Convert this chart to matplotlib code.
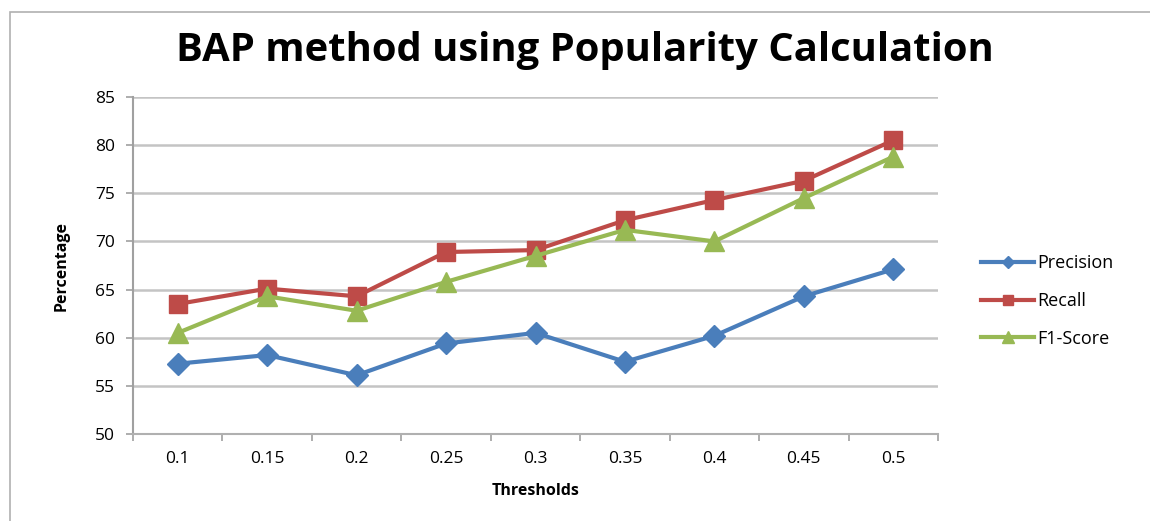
import matplotlib
matplotlib.use("Agg")
import matplotlib.pyplot as plt
from matplotlib.patches import Rectangle

thresholds = ["0.1", "0.15", "0.2", "0.25", "0.3", "0.35", "0.4", "0.45", "0.5"]
precision = [57.3, 58.2, 56.1, 59.4, 60.5, 57.5, 60.2, 64.3, 67.1]
recall = [63.5, 65.1, 64.3, 68.9, 69.1, 72.2, 74.3, 76.3, 80.5]
f1_score = [60.5, 64.3, 62.8, 65.8, 68.5, 71.2, 70.0, 74.5, 78.8]
y_ticks = [50, 55, 60, 65, 70, 75, 80, 85]

plt.rcParams['font.family'] = ['Open Sans', 'DejaVu Sans']

fig = plt.figure(figsize=(11.5, 5.21), dpi=100)
fig.patches.append(Rectangle((10/1150, -0.01), 1.2, 1 - 12/521 + 0.01, transform=fig.transFigure,
                             fill=False, edgecolor="#b0b0b0", linewidth=1.2))

ax = fig.add_axes([133/1150, 1 - 434/521, (938-133)/1150, (434-97)/521])
x = list(range(len(thresholds)))

ax.plot(x, precision, color="#4A7EBB", lw=3, marker="D", ms=11, label="Precision")
ax.plot(x, recall, color="#BE4B48", lw=3, marker="s", ms=13, label="Recall")
ax.plot(x, f1_score, color="#98B954", lw=3, marker="^", ms=14, label="F1-Score")

ax.set_xlim(-0.5, len(thresholds) - 0.5)
ax.set_ylim(50, 85)
ax.set_yticks(y_ticks)
ax.set_xticks(x)
ax.set_xticklabels(thresholds)
ax.set_xticks([i - 0.5 for i in range(len(thresholds) + 1)], minor=True)
ax.tick_params(axis='x', which='major', length=0, labelsize=12.5, pad=12)
ax.tick_params(axis='x', which='minor', length=5, color="#a0a0a0", width=1.2)
ax.tick_params(axis='y', length=5, color="#a0a0a0", width=1.2, labelsize=12.5, pad=8)
ax.yaxis.grid(True, color="#c4c4c4", lw=1.8)
ax.set_axisbelow(True)
for s in ["top", "right"]:
    ax.spines[s].set_visible(False)
ax.spines["left"].set_color("#a0a0a0")
ax.spines["left"].set_linewidth(1.5)
ax.spines["bottom"].set_color("#b0b0b0")
ax.spines["bottom"].set_linewidth(1.5)

ax.set_xlabel("Thresholds", fontsize=11.5, fontweight="bold", labelpad=12)
ax.set_ylabel("Percentage", fontsize=11.5, fontweight="bold", labelpad=18)

fig.text(0.509, 1 - 50/521, "BAP method using Popularity Calculation", ha="center", va="center",
         fontsize=28.8, fontweight="bold")

ax.legend(loc="center left", bbox_to_anchor=(1.045, 0.395), frameon=False, fontsize=13,
          handlelength=2.9, labelspacing=1.1, handletextpad=0.2, markerscale=0.6,
          borderaxespad=0)

fig.savefig("out.png", dpi=100)
